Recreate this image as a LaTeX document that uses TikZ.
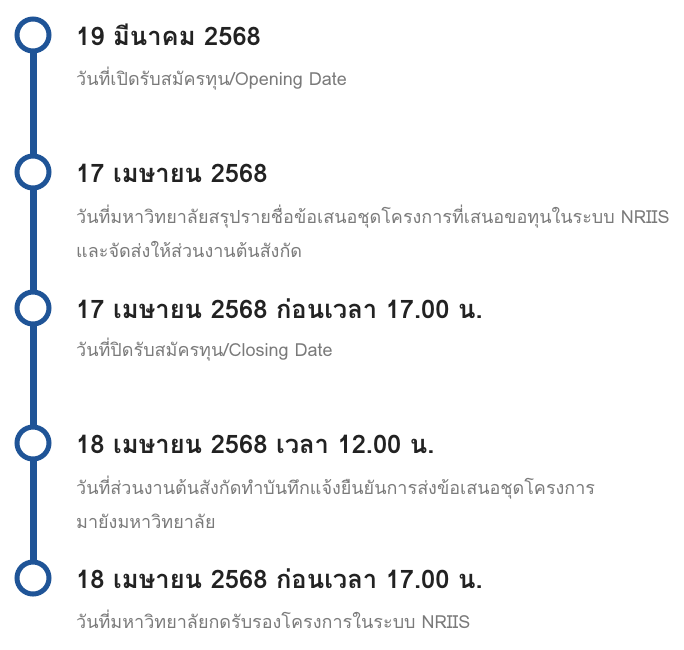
\documentclass[tikz,border=0pt]{standalone}
\usepackage{fontspec}
\setmainfont[Script=Thai]{Loma}
\usepackage{tikz}

\definecolor{tlblue}{HTML}{1F5497}
\definecolor{tltext}{HTML}{222222}
\definecolor{tlgrey}{HTML}{7A7A7A}

\tikzset{
  dot/.style={circle, draw=tlblue, line width=5pt, fill=white, minimum size=32pt, inner sep=0pt},
  stem/.style={tlblue, line width=7pt},
  datehead/.style={anchor=base west, inner sep=0pt, text=tltext, font=\bfseries\fontsize{25.5}{30}\selectfont},
  dateinfo/.style={anchor=base west, inner sep=0pt, text=tlgrey, font=\fontsize{18}{21}\selectfont}
}

\begin{document}
\begin{tikzpicture}[x=1pt, y=-1pt]
    \def\lx{33}
    \def\tx{76}
    \useasboundingbox (0,0) rectangle (684,649);

    % stems first, circles on top
    \foreach \i/\y in {1/35,2/172,3/308,4/443,5/578} {
        \coordinate (p\i) at (\lx,\y);
    }
    \foreach \i [count=\j from 2] in {1,...,4} {
        \draw[stem] (p\i) -- (p\j);
    }
    \foreach \i in {1,...,5} {
        \node[dot] (c\i) at (p\i) {};
    }

    \node[datehead] (t1) at (\tx,45) {19 มีนาคม 2568};
    \node[dateinfo] (s1) at (\tx,85) {วันที่เปิดรับสมัครทุน/Opening Date};

    \node[datehead] (t2) at (\tx,182) {17 เมษายน 2568};
    \node[dateinfo] (s2a) at (\tx,223) {วันที่มหาวิทยาลัยสรุปรายชื่อข้อเสนอชุดโครงการที่เสนอขอทุนในระบบ NRIIS};
    \node[dateinfo] (s2b) at (\tx,257) {และจัดส่งให้ส่วนงานต้นสังกัด};

    \node[datehead] (t3) at (\tx,318) {17 เมษายน 2568 ก่อนเวลา 17.00 น.};
    \node[dateinfo] (s3) at (\tx,356) {วันที่ปิดรับสมัครทุน/Closing Date};

    \node[datehead] (t4) at (\tx,453) {18 เมษายน 2568 เวลา 12.00 น.};
    \node[dateinfo] (s4a) at (\tx,494) {วันที่ส่วนงานต้นสังกัดทำบันทึกแจ้งยืนยันการส่งข้อเสนอชุดโครงการ};
    \node[dateinfo] (s4b) at (\tx,528) {มายังมหาวิทยาลัย};

    \node[datehead] (t5) at (\tx,588) {18 เมษายน 2568 ก่อนเวลา 17.00 น.};
    \node[dateinfo] (s5) at (\tx,628) {วันที่มหาวิทยาลัยกดรับรองโครงการในระบบ NRIIS};
\end{tikzpicture}
\end{document}
